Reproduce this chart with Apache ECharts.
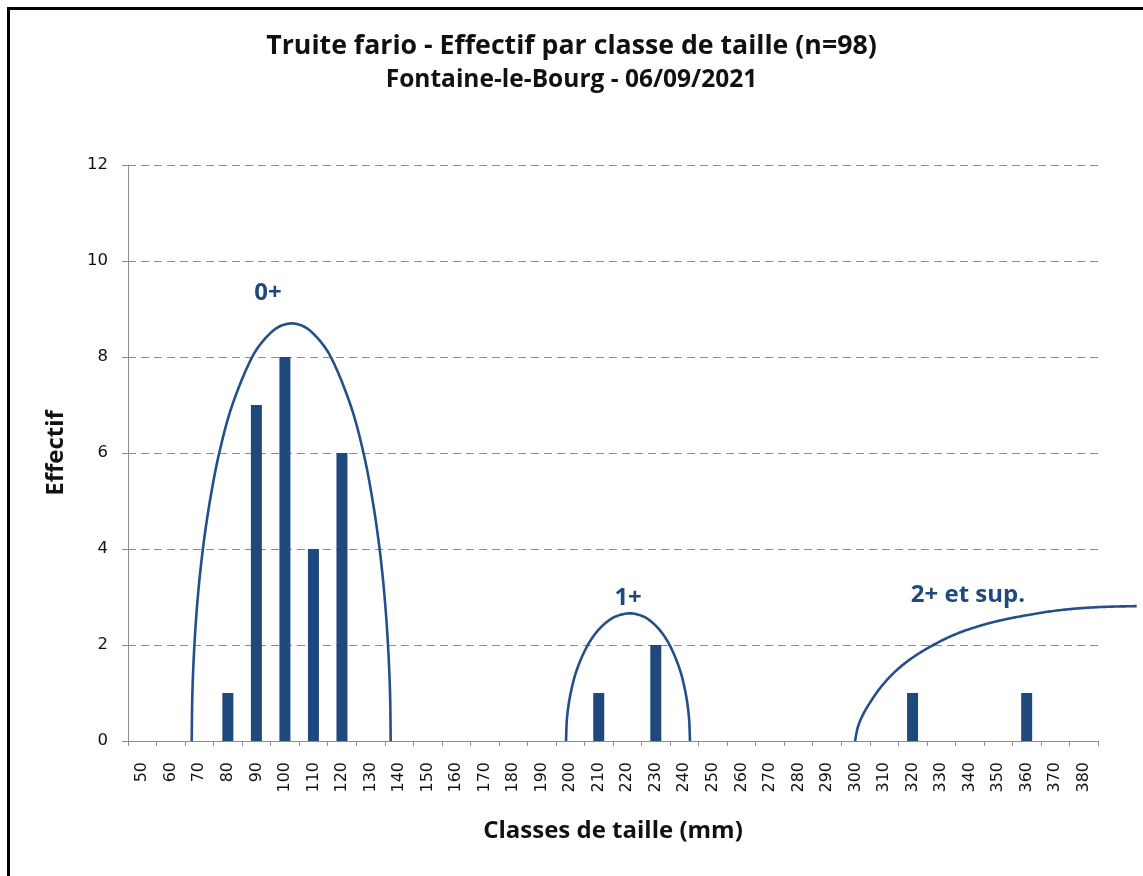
<!DOCTYPE html>
<html>
<head>
<meta charset="utf-8">
<script src="https://cdn.jsdelivr.net/npm/echarts@6/dist/echarts.min.js"></script>
<style>
  html, body { margin: 0; padding: 0; background: #ffffff; }
  #frame { position: absolute; left: 7px; top: 7px; width: 1136px; height: 869px;
           border-left: 3px solid #000; border-top: 3px solid #000; box-sizing: border-box; }
  #chart { position: absolute; left: 0; top: 0; width: 1143px; height: 876px; }
</style>
</head>
<body>
<div id="frame"></div>
<div id="chart"></div>
<script>
// ---- data ----
const categories = ['50','60','70','80','90','100','110','120','130','140','150','160','170','180','190','200','210','220','230','240','250','260','270','280','290','300','310','320','330','340','350','360','370','380'];
const counts = [0,0,0,1,7,8,4,6,0,0,0,0,0,0,0,0,1,0,2,0,0,0,0,0,0,0,0,1,0,0,0,1,0,0];
const yTicks = [0, 2, 4, 6, 8, 10, 12];

// Hand-drawn cohort envelopes as [size (mm), effectif]
const curve0 = [
  [67.33,0],[67.57,1],[68.28,2],[69.47,3],[71.25,4],[73.71,5],[76.97,6],[81.56,7],[88.53,8],[91.86,8.3],[95.9,8.55],[98.63,8.65],
  [102.38,8.70],
  [106.10,8.65],[108.79,8.55],[112.79,8.3],[116.09,8],[122.99,7],[127.55,6],[130.77,5],[133.19,4],[134.94,3],[136.13,2],[136.85,1],[137.08,0]
];
const curve1 = [
  [198.53,0],[198.91,0.5],[200.17,1],[202.42,1.5],[206.17,2],[209.67,2.3],[213.28,2.5],[216.19,2.6],
  [220.96,2.66],
  [225.41,2.6],[228.15,2.5],[231.55,2.3],[234.84,2],[238.35,1.5],[240.45,1],[241.61,0.5],[241.99,0]
];
const curve2 = [
  [299.83,0],[300.88,0.3],[302.63,0.55],[305.09,0.8],[308.59,1.1],[313.25,1.41],[319.11,1.70],[327.27,2.0],
  [334.88,2.22],[342.49,2.38],[350.65,2.51],[360.01,2.62],[368.18,2.70],[377.54,2.76],[387.46,2.795],[398.57,2.81]
];
const cohortLabels = [['0+', 94.1, 9.33], ['1+', 220.3, 2.98], ['2+ et sup.', 339.4, 3.04]];

const titleText = 'Truite fario - Effectif par classe de taille (n=98)';
const subtitleText = 'Fontaine-le-Bourg - 06/09/2021';

// ---- chart ----
const BAR = '#1F497D';
const CURVE = '#24508A';
const BOLD_FONT = '"Open Sans", Lato, sans-serif';

const chart = echarts.init(document.getElementById('chart'), null, { renderer: 'canvas' });

// centripetal Catmull-Rom through the pixel positions of the read points
function splinePoints(pts) {
  const out = [];
  const n = pts.length;
  const ext = (a, b) => [2 * a[0] - b[0], 2 * a[1] - b[1]];
  const dist = (p, q) => Math.pow(Math.hypot(q[0] - p[0], q[1] - p[1]) || 1e-6, 0.5);
  const lerp = (pa, pb, ta, tb, t) => {
    const k = (t - ta) / (tb - ta);
    return [pa[0] + (pb[0] - pa[0]) * k, pa[1] + (pb[1] - pa[1]) * k];
  };
  for (let i = 0; i < n - 1; i++) {
    const p1 = pts[i], p2 = pts[i + 1];
    const p0 = i > 0 ? pts[i - 1] : ext(p1, p2);
    const p3 = i + 2 < n ? pts[i + 2] : ext(p2, p1);
    const t0 = 0, t1 = t0 + dist(p0, p1), t2 = t1 + dist(p1, p2), t3 = t2 + dist(p2, p3);
    const steps = 16;
    for (let s = (i === 0 ? 0 : 1); s <= steps; s++) {
      const t = t1 + (t2 - t1) * s / steps;
      const A1 = lerp(p0, p1, t0, t1, t), A2 = lerp(p1, p2, t1, t2, t), A3 = lerp(p2, p3, t2, t3, t);
      const B1 = lerp(A1, A2, t0, t2, t), B2 = lerp(A2, A3, t1, t3, t);
      out.push(lerp(B1, B2, t1, t2, t));
    }
  }
  return out;
}

const curveSeries = (d) => ({
  type: 'custom', coordinateSystem: 'cartesian2d', xAxisIndex: 1, yAxisIndex: 0,
  data: [d[0]], silent: true, z: 3, clip: false,
  renderItem: (params, api) => {
    const pts = d.map(p => api.coord(p));
    return {
      type: 'polyline',
      shape: { points: splinePoints(pts), smooth: 0 },
      style: { stroke: CURVE, lineWidth: 2.6, fill: null, lineJoin: 'round' }
    };
  }
});

chart.setOption({
  animation: false,
  backgroundColor: 'transparent',
  title: [
    { text: titleText, left: 'center', top: 28,
      textStyle: { fontFamily: BOLD_FONT, fontWeight: 'bold', fontSize: 26.7, color: '#111' } },
    { text: subtitleText, left: 'center', top: 63,
      textStyle: { fontFamily: BOLD_FONT, fontWeight: 'bold', fontSize: 24.5, color: '#111' } }
  ],
  grid: { left: 128, right: 45, top: 165, bottom: 135, containLabel: false },
  xAxis: [
    {
      type: 'category', data: categories, boundaryGap: true,
      name: 'Classes de taille (mm)', nameLocation: 'middle', nameGap: 78,
      nameTextStyle: { fontFamily: BOLD_FONT, fontWeight: 'bold', fontSize: 24, color: '#111' },
      axisLine: { show: true, lineStyle: { color: '#8c8c8c', width: 1 } },
      axisTick: { show: true, interval: 0, alignWithLabel: false, length: 5, lineStyle: { color: '#8c8c8c' } },
      axisLabel: { interval: 0, rotate: 90, margin: 21, fontFamily: '"DejaVu Sans"', fontSize: 16, color: '#111' },
      splitLine: { show: false }
    },
    { type: 'value', min: 45, max: 385, show: false }
  ],
  yAxis: {
    type: 'value', min: yTicks[0], max: yTicks[yTicks.length - 1], interval: 2,
    name: 'Effectif', nameLocation: 'middle', nameGap: 60, nameRotate: 90,
    nameTextStyle: { fontFamily: BOLD_FONT, fontWeight: 'bold', fontSize: 24, color: '#111' },
    axisLine: { show: true, lineStyle: { color: '#8c8c8c', width: 1 } },
    axisTick: { show: true, length: 6, lineStyle: { color: '#8c8c8c' } },
    axisLabel: { margin: 20, fontFamily: '"DejaVu Sans"', fontSize: 16.5, color: '#111' },
    splitLine: { show: true, lineStyle: { color: '#8c8c8c', width: 1, type: [8, 5] } }
  },
  series: [
    {
      type: 'bar', xAxisIndex: 0, yAxisIndex: 0, data: counts, barWidth: 11, z: 2,
      itemStyle: { color: BAR }
    },
    curveSeries(curve0),
    curveSeries(curve1),
    curveSeries(curve2),
    {
      type: 'scatter', xAxisIndex: 1, yAxisIndex: 0, silent: true, z: 4,
      data: cohortLabels.map(l => ({ name: l[0], value: [l[1], l[2]] })),
      symbolSize: 1, itemStyle: { color: 'transparent' },
      label: { show: true, position: 'inside', formatter: '{b}', opacity: 1,
               fontFamily: BOLD_FONT, fontWeight: 'bold', fontSize: 24, color: '#1F497D' }
    }
  ]
});
</script>
</body>
</html>
